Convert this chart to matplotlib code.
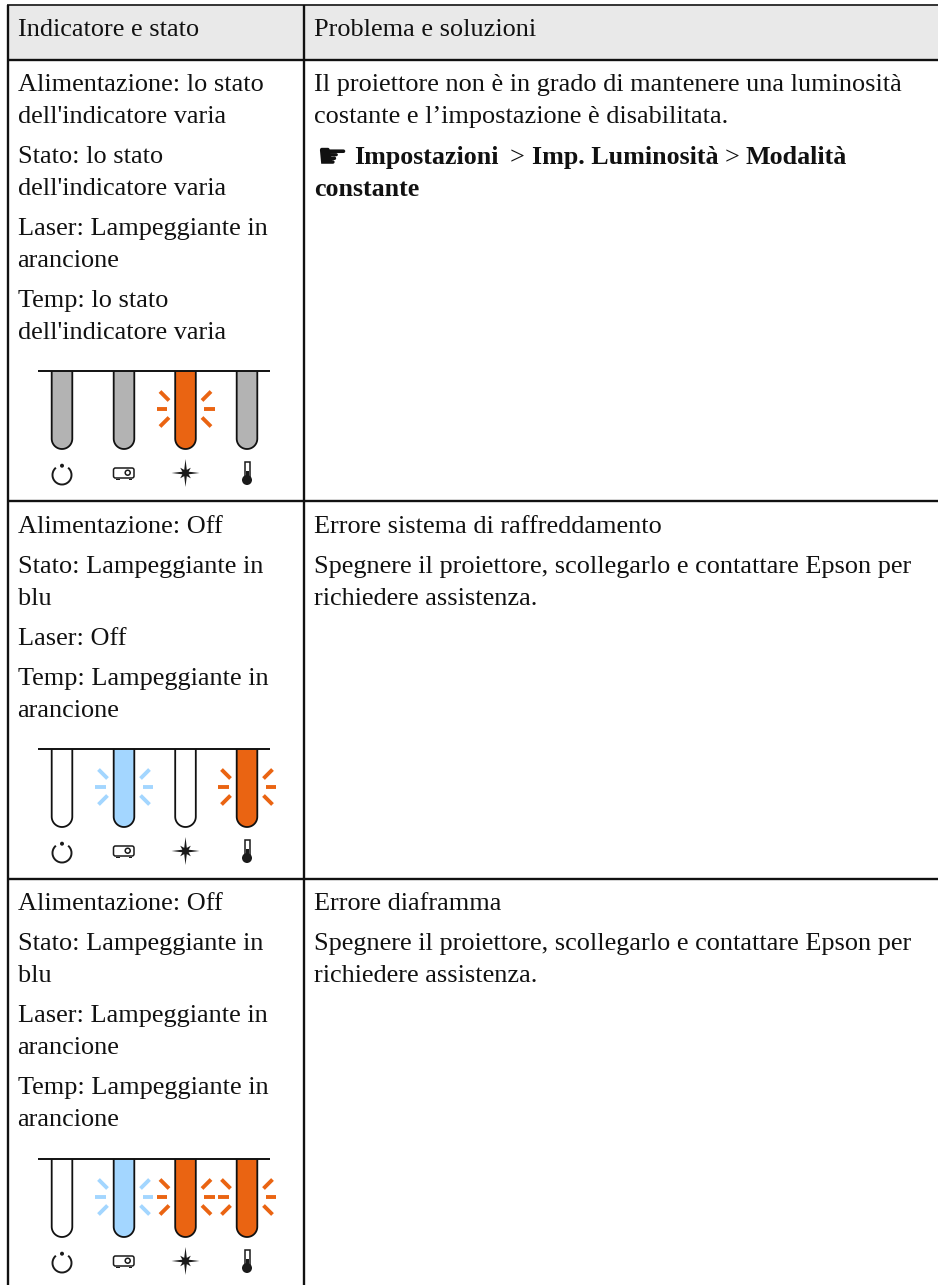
import numpy as np
import matplotlib.pyplot as plt
from matplotlib.patches import PathPatch, Rectangle, Circle, Arc, FancyBboxPatch
from matplotlib.path import Path

W, H = 938, 1285
SERIF = 'Liberation Serif'
FS = 18.9
FS_BOLD = 18.7
INK = '#111111'

header_labels = ['Indicatore e stato', 'Problema e soluzioni']
row_lines = [59.5, 501, 879]
left_texts = [
    [(91, 'Alimentazione: lo stato'), (123, "dell'indicatore varia"),
     (163, 'Stato: lo stato'), (195, "dell'indicatore varia"),
     (235, 'Laser: Lampeggiante in'), (267, 'arancione'),
     (307, 'Temp: lo stato'), (339, "dell'indicatore varia")],
    [(533, 'Alimentazione: Off'), (573, 'Stato: Lampeggiante in'), (605, 'blu'),
     (645, 'Laser: Off'), (685, 'Temp: Lampeggiante in'), (717, 'arancione')],
    [(910, 'Alimentazione: Off'), (950, 'Stato: Lampeggiante in'), (982, 'blu'),
     (1022, 'Laser: Lampeggiante in'), (1054, 'arancione'),
     (1094, 'Temp: Lampeggiante in'), (1126, 'arancione')],
]
right_texts = [
    (91, 'Il proiettore non è in grado di mantenere una luminosità'),
    (123, 'costante e l’impostazione è disabilitata.'),
    (533, 'Errore sistema di raffreddamento'),
    (573, 'Spegnere il proiettore, scollegarlo e contattare Epson per'),
    (605, 'richiedere assistenza.'),
    (910, 'Errore diaframma'),
    (950, 'Spegnere il proiettore, scollegarlo e contattare Epson per'),
    (982, 'richiedere assistenza.'),
]

lamp_tops = [371, 749, 1159]
lamp_x = [62, 124, 185.5, 247]
GREY = '#b3b3b3'
BLUE = '#a3d6ff'
ORANGE = '#ea6412'
WHITE = '#ffffff'
lamp_colors = [
    [GREY, GREY, ORANGE, GREY],
    [WHITE, BLUE, WHITE, ORANGE],
    [WHITE, BLUE, ORANGE, ORANGE],
]
lamp_blink = [
    [False, False, True, False],
    [False, True, False, True],
    [False, True, True, True],
]


def draw_lamp(ax, x, top, color, blink):
    hw, ln = 10.3, 78
    verts = [(x - hw, top), (x - hw, top + ln - hw)]
    for a in np.linspace(np.pi, 0, 30):
        verts.append((x + hw * np.cos(a), top + ln - hw + hw * np.sin(a)))
    verts.append((x + hw, top))
    codes = [Path.MOVETO] + [Path.LINETO] * (len(verts) - 1)
    ax.add_patch(PathPatch(Path(verts, codes), fc=color, ec=INK, lw=1.3, zorder=3))
    if blink:
        cy = top + 38
        for s in (-1, 1):
            ax.plot([x + s * 18.5, x + s * 29], [cy, cy], color=color, lw=2.8,
                    solid_capstyle='butt', zorder=3)
            for d in (-1, 1):
                ax.plot([x + s * 16.5, x + s * 25.5], [cy + d * 8.5, cy + d * 17.5],
                        color=color, lw=2.8, solid_capstyle='butt', zorder=3)


def draw_icons(ax, top):
    k = '#1a1a1a'
    y = top + 102
    # power
    ax.add_patch(Arc((62, y + 2), 19, 19, theta1=-50, theta2=230, color=k, lw=1.4, zorder=3))
    ax.add_patch(Circle((62, y - 7.3), 2, fc=k, ec='none', zorder=3))
    # projector
    ax.add_patch(FancyBboxPatch((113.5, y - 5), 20.5, 10, boxstyle='round,pad=0,rounding_size=2',
                                fc='white', ec=k, lw=1.1, zorder=3))
    ax.add_patch(Circle((127.7, y - 0.3), 2.5, fc='white', ec=k, lw=1.1, zorder=4))
    for bx in (116, 128.5):
        ax.add_patch(Rectangle((bx, y + 5.5), 3.5, 1.5, fc=k, ec='none', zorder=3))
    # laser star
    a = np.linspace(0, 2 * np.pi, 17)[:-1]
    radii = [14, 3.4, 7.5, 3.4] * 4
    xs = [185.5 + q * np.sin(b) for q, b in zip(radii, a)]
    ys = [y + q * np.cos(b) for q, b in zip(radii, a)]
    ax.fill(xs, ys, color=k, lw=0, zorder=3)
    # thermometer
    ax.add_patch(Rectangle((244.5, y - 11), 5.2, 16, fc='white', ec=k, lw=1.1, zorder=3))
    ax.add_patch(Rectangle((245.5, y - 2), 3.2, 8, fc=k, ec='none', zorder=3))
    ax.add_patch(Circle((247, y + 7), 5, fc=k, ec='none', zorder=4))


fig = plt.figure(figsize=(W / 100, H / 100), dpi=100)
ax = fig.add_axes([0, 0, 1, 1])
ax.set_xlim(0, W)
ax.set_ylim(H, 0)
ax.axis('off')

ax.add_patch(Rectangle((7, 5), W - 7, 55, fc='#e9e9e9', ec='none', zorder=0))
ax.plot([6.5, W], [5, 5], color='#333333', lw=1.4, solid_capstyle='butt')
for y in row_lines:
    ax.plot([7, W], [y, y], color=INK, lw=1.7, solid_capstyle='butt')
ax.plot([7.5, 7.5], [4.5, H], color=INK, lw=1.7, solid_capstyle='butt')
ax.plot([304, 304], [4.5, H], color=INK, lw=1.7, solid_capstyle='butt')

style = dict(family=SERIF, fontsize=FS, va='baseline', color=INK)
bold = dict(family=SERIF, fontsize=FS_BOLD, weight='bold', va='baseline', color=INK)
ax.text(17.5, 36.5, header_labels[0], **style)
ax.text(314, 36.5, header_labels[1], **style)
for rows in left_texts:
    for y, s in rows:
        ax.text(17.5, y, s, **style)
for y, s in right_texts:
    ax.text(314, y, s, **style)

ax.text(316, 167, '☛', family='DejaVu Sans', fontsize=25, va='baseline', color=INK)
ax.text(354.5, 164, 'Impostazioni', **bold)
ax.text(510, 164, '>', **style)
ax.text(532.5, 164, 'Imp. Luminosità', **bold)
ax.text(724.5, 164, '>', **style)
ax.text(745, 164, 'Modalità', **bold)
ax.text(314, 196, 'constante', **bold)

for top, colors, blinks in zip(lamp_tops, lamp_colors, lamp_blink):
    ax.plot([38, 270], [top, top], color=INK, lw=1.4, zorder=4, solid_capstyle='butt')
    for x, c, b in zip(lamp_x, colors, blinks):
        draw_lamp(ax, x, top, c, b)
    draw_icons(ax, top)

fig.savefig('out.png', dpi=100)
